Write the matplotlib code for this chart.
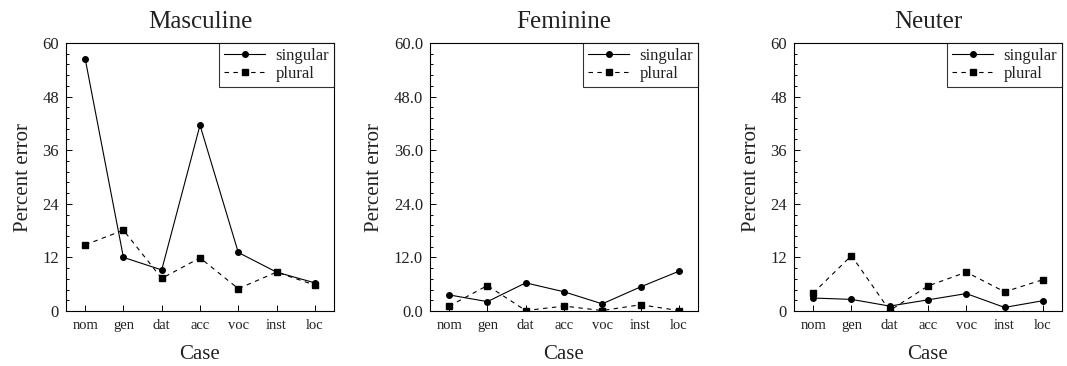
import matplotlib.pyplot as plt
from matplotlib.ticker import MultipleLocator, FormatStrFormatter

plt.rcParams['font.family'] = ['Liberation Serif', 'DejaVu Serif']

cases = ["nom", "gen", "dat", "acc", "voc", "inst", "loc"]

masc_sg = [56.5, 12.0, 9.2, 41.6, 13.1, 8.7, 6.3]
masc_pl = [14.8, 18.1, 7.3, 11.9, 5.0, 8.7, 5.8]

fem_sg = [3.6, 2.1, 6.3, 4.3, 1.6, 5.4, 8.9]
fem_pl = [1.1, 5.7, 0.1, 1.1, 0.1, 1.4, 0.1]

neut_sg = [2.9, 2.6, 1.1, 2.5, 3.9, 0.8, 2.3]
neut_pl = [4.0, 12.4, 0.1, 5.6, 8.7, 4.3, 7.0]

panels = [
    ("Masculine", masc_sg, masc_pl, "%d"),
    ("Feminine", fem_sg, fem_pl, "%.1f"),
    ("Neuter", neut_sg, neut_pl, "%d"),
]
lefts = [66, 430, 794]

fig = plt.figure(figsize=(10.67, 3.66), dpi=100)
txt = "#222222"

for (title, sg, pl, fmt), left in zip(panels, lefts):
    ax = fig.add_axes([left / 1067, 55 / 366, 268 / 1067, 268 / 366])
    x = range(len(cases))
    ax.plot(x, sg, "k-", marker="o", ms=4, lw=0.8, label="singular")
    ax.plot(x, pl, "k--", marker="s", ms=4, lw=0.8, dashes=(4, 4),
            label="plural")

    ax.set_xlim(-0.5, 6.5)
    ax.set_ylim(0, 60)
    ax.set_xticks(list(x))
    ax.set_xticklabels(cases)
    ax.yaxis.set_major_locator(MultipleLocator(12))
    ax.yaxis.set_minor_locator(MultipleLocator(2.4))
    ax.yaxis.set_major_formatter(FormatStrFormatter(fmt))
    ax.tick_params(axis="both", which="both", direction="in",
                   colors="k", labelcolor=txt, width=0.7)
    ax.tick_params(axis="y", which="major", length=4, pad=5, labelsize=12)
    ax.tick_params(axis="y", which="minor", length=2.5)
    ax.tick_params(axis="x", which="major", length=4, pad=6, labelsize=10.5)
    for s in ax.spines.values():
        s.set_linewidth(0.8)

    ax.set_title(title, fontsize=18, color=txt, pad=11)
    ax.set_xlabel("Case", fontsize=15, color=txt, labelpad=9)
    ax.set_ylabel("Percent error", fontsize=15, color=txt, labelpad=7)

    leg = ax.legend(loc="upper right", bbox_to_anchor=(1, 1),
                    borderaxespad=0, fancybox=False, fontsize=12,
                    handlelength=2.5, handletextpad=0.6,
                    borderpad=0.3, labelspacing=0.12)
    leg.get_frame().set_edgecolor("k")
    leg.get_frame().set_linewidth(0.8)
    for t in leg.get_texts():
        t.set_color(txt)

fig.savefig("out.png", dpi=100)
